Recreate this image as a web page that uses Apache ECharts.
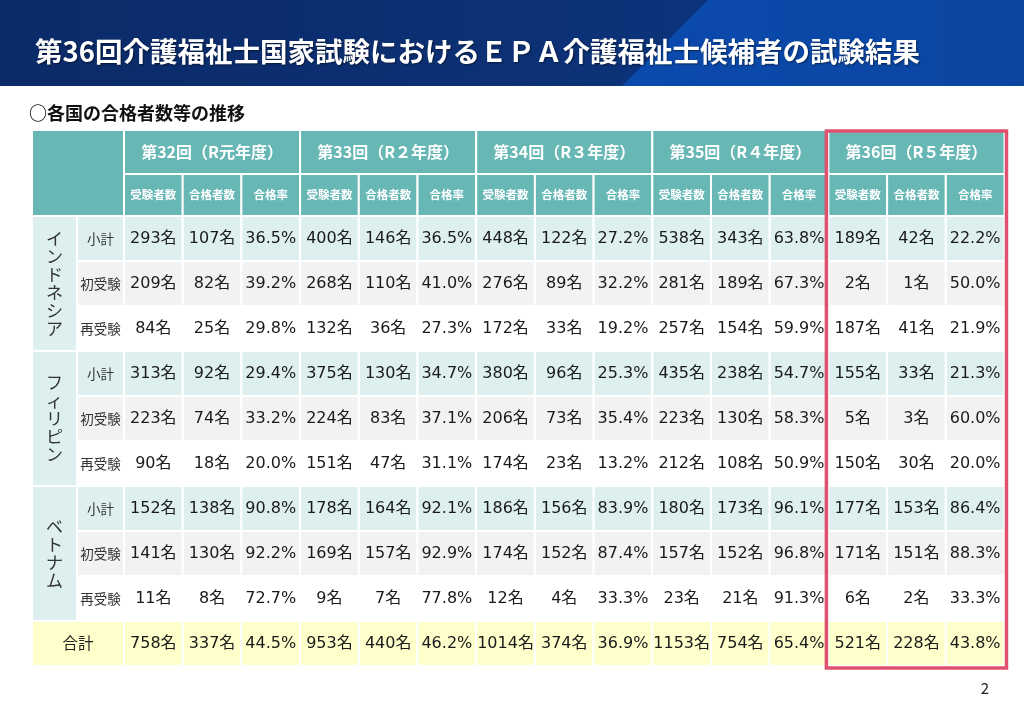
<!DOCTYPE html>
<html>
<head>
<meta charset="utf-8">
<script src="https://cdn.jsdelivr.net/npm/echarts@6/dist/echarts.min.js"></script>
<style>
html, body { margin: 0; padding: 0; background: #fff; }
#main { width: 1024px; height: 711px; }
</style>
</head>
<body>
<div id="main"></div>
<script>
var rounds = ['第32回（R元年度）', '第33回（R２年度）', '第34回（R３年度）', '第35回（R４年度）', '第36回（R５年度）'];
var measures = ['受験者数', '合格者数', '合格率'];
var countries = ['インドネシア', 'フィリピン', 'ベトナム'];
var breakdown = ['小計', '初受験', '再受験'];

// 各回 [受験者数, 合格者数, 合格率(%)]
var idnSubtotal = [[293, 107, 36.5], [400, 146, 36.5], [448, 122, 27.2], [538, 343, 63.8], [189, 42, 22.2]];
var idnFirst    = [[209, 82, 39.2], [268, 110, 41.0], [276, 89, 32.2], [281, 189, 67.3], [2, 1, 50.0]];
var idnRetake   = [[84, 25, 29.8], [132, 36, 27.3], [172, 33, 19.2], [257, 154, 59.9], [187, 41, 21.9]];
var phlSubtotal = [[313, 92, 29.4], [375, 130, 34.7], [380, 96, 25.3], [435, 238, 54.7], [155, 33, 21.3]];
var phlFirst    = [[223, 74, 33.2], [224, 83, 37.1], [206, 73, 35.4], [223, 130, 58.3], [5, 3, 60.0]];
var phlRetake   = [[90, 18, 20.0], [151, 47, 31.1], [174, 23, 13.2], [212, 108, 50.9], [150, 30, 20.0]];
var vnmSubtotal = [[152, 138, 90.8], [178, 164, 92.1], [186, 156, 83.9], [180, 173, 96.1], [177, 153, 86.4]];
var vnmFirst    = [[141, 130, 92.2], [169, 157, 92.9], [174, 152, 87.4], [157, 152, 96.8], [171, 151, 88.3]];
var vnmRetake   = [[11, 8, 72.7], [9, 7, 77.8], [12, 4, 33.3], [23, 21, 91.3], [6, 2, 33.3]];
var grandTotal  = [[758, 337, 44.5], [953, 440, 46.2], [1014, 374, 36.9], [1153, 754, 65.4], [521, 228, 43.8]];

var countryRows = [
    [idnSubtotal, idnFirst, idnRetake],
    [phlSubtotal, phlFirst, phlRetake],
    [vnmSubtotal, vnmFirst, vnmRetake]
];
var highlightRound = 4;

// レイアウト（表の列幅・行高）
var colWidths = [45, 47];
for (var i = 0; i < 15; i++) colWidths.push(58.7);
var rowHeights = [44, 42, 45, 45, 45, 45, 45, 45, 45, 45, 45, 45];
var xEdge = [0], yEdge = [0];
colWidths.forEach(function (w) { xEdge.push(xEdge[xEdge.length - 1] + w); });
rowHeights.forEach(function (h) { yEdge.push(yEdge[yEdge.length - 1] + h); });

var teal = '#67b8b5', lightTeal = '#ddefef', gray = '#f2f2f2', yellow = '#ffffcc';
var rowFills = [lightTeal, gray, '#ffffff'];
var font = "'Noto Sans CJK JP', 'Noto Sans', sans-serif";
var numFont = "'DejaVu Sans', 'Noto Sans CJK JP', sans-serif";

var cells = [];
function addCell(c0, c1, r0, r1, text, fill, st) {
    cells.push({
        value: [xEdge[c0], xEdge[c1], yEdge[r0], yEdge[r1]],
        text: text, fill: fill, st: st
    });
}
function fmt(v, k) { return k === 2 ? v.toFixed(1) + '%' : v + '名'; }

var headStyle = { color: '#fff', size: 16, weight: 'bold' };
var subHeadStyle = { color: '#fff', size: 11.5, weight: 'bold' };
var labelStyle = { color: '#333', size: 13.5, weight: 'normal' };
var numStyle = { color: '#1a1a1a', size: 16, weight: 'normal', family: numFont };
var countryStyle = { color: '#333', size: 17, weight: 'normal', lh: 18 };

// 見出し
addCell(0, 2, 0, 2, '', teal, headStyle);
rounds.forEach(function (r, ri) {
    addCell(2 + ri * 3, 5 + ri * 3, 0, 1, r, teal, headStyle);
    measures.forEach(function (m, mi) {
        addCell(2 + ri * 3 + mi, 3 + ri * 3 + mi, 1, 2, m, teal, subHeadStyle);
    });
});
// 国別
countries.forEach(function (cn, ci) {
    var r0 = 2 + ci * 3;
    addCell(0, 1, r0, r0 + 3, cn.split('').join('\n'), lightTeal, countryStyle);
    breakdown.forEach(function (b, bi) {
        var row = r0 + bi;
        addCell(1, 2, row, row + 1, b, rowFills[bi], labelStyle);
        countryRows[ci][bi].forEach(function (vals, ri) {
            vals.forEach(function (v, k) {
                addCell(2 + ri * 3 + k, 3 + ri * 3 + k, row, row + 1, fmt(v, k), rowFills[bi], numStyle);
            });
        });
    });
});
// 合計
addCell(0, 2, 11, 12, '合計', yellow, { color: '#222', size: 15.5, weight: 'normal' });
grandTotal.forEach(function (vals, ri) {
    vals.forEach(function (v, k) {
        addCell(2 + ri * 3 + k, 3 + ri * 3 + k, 11, 12, fmt(v, k), yellow, numStyle);
    });
});

var chart = echarts.init(document.getElementById('main'));
var totalW = xEdge[xEdge.length - 1], totalH = yEdge[yEdge.length - 1];

chart.setOption({
    animation: false,
    title: {
        text: '第36回介護福祉士国家試験におけるＥＰＡ介護福祉士候補者の試験結果',
        left: 35, top: 38, padding: 0,
        textStyle: {
            color: '#fff', fontSize: 27.5, fontWeight: 'bold', fontFamily: font,
            textShadowColor: 'rgba(0,0,0,0.5)', textShadowBlur: 2, textShadowOffsetX: 1, textShadowOffsetY: 1
        }
    },
    graphic: [
        {
            type: 'rect', z: -1, shape: { x: 0, y: 0, width: 1024, height: 86 },
            style: { fill: new echarts.graphic.LinearGradient(0, 0, 1, 0, [
                { offset: 0, color: '#0b2a68' }, { offset: 0.6, color: '#0c3278' }, { offset: 1, color: '#0b3a88' }
            ]) }
        },
        {
            type: 'polygon', z: -1,
            shape: { points: [[708, 0], [1024, 0], [1024, 86], [622, 86]] },
            style: { fill: new echarts.graphic.LinearGradient(0, 0, 1, 0, [
                { offset: 0, color: '#0a4aae' }, { offset: 1, color: '#0b45a0' }
            ]) }
        },
        {
            type: 'text', x: 29, y: 113,
            style: { text: '○各国の合格者数等の推移', fontSize: 18, fontWeight: 'bold', fill: '#111', fontFamily: font, textVerticalAlign: 'middle' }
        },
        {
            type: 'text', x: 985, y: 688,
            style: { text: '2', fontSize: 15, fill: '#222', fontFamily: font, textAlign: 'center', textVerticalAlign: 'middle' }
        }
    ],
    grid: { left: 32, top: 130, width: totalW, height: totalH },
    xAxis: { type: 'value', min: 0, max: totalW, show: false },
    yAxis: { type: 'value', min: 0, max: totalH, inverse: true, show: false },
    series: [
        {
            type: 'custom',
            silent: true,
            data: cells.map(function (c) { return c.value; }),
            renderItem: function (params, api) {
                var c = cells[params.dataIndex];
                var a = api.coord([api.value(0), api.value(2)]);
                var b = api.coord([api.value(1), api.value(3)]);
                return {
                    type: 'group',
                    children: [
                        {
                            type: 'rect',
                            shape: { x: a[0], y: a[1], width: b[0] - a[0], height: b[1] - a[1] },
                            style: { fill: c.fill, stroke: '#fff', lineWidth: 2 }
                        },
                        {
                            type: 'text',
                            x: (a[0] + b[0]) / 2, y: (a[1] + b[1]) / 2,
                            style: {
                                text: c.text, fill: c.st.color, fontSize: c.st.size, fontWeight: c.st.weight,
                                fontFamily: c.st.family || font, lineHeight: c.st.lh || c.st.size + 2,
                                textAlign: 'center', textVerticalAlign: 'middle'
                            }
                        }
                    ]
                };
            }
        },
        {
            type: 'custom',
            silent: true,
            z: 5,
            data: [[xEdge[2 + highlightRound * 3], xEdge[5 + highlightRound * 3], yEdge[0], yEdge[12]]],
            renderItem: function (params, api) {
                var a = api.coord([api.value(0), api.value(2)]);
                var b = api.coord([api.value(1), api.value(3)]);
                return {
                    type: 'rect',
                    shape: { x: a[0] - 2, y: a[1] + 1, width: b[0] - a[0] + 4, height: b[1] - a[1] + 1 },
                    style: { fill: 'none', stroke: '#e0506f', lineWidth: 3.5 }
                };
            }
        }
    ]
});
</script>
</body>
</html>
